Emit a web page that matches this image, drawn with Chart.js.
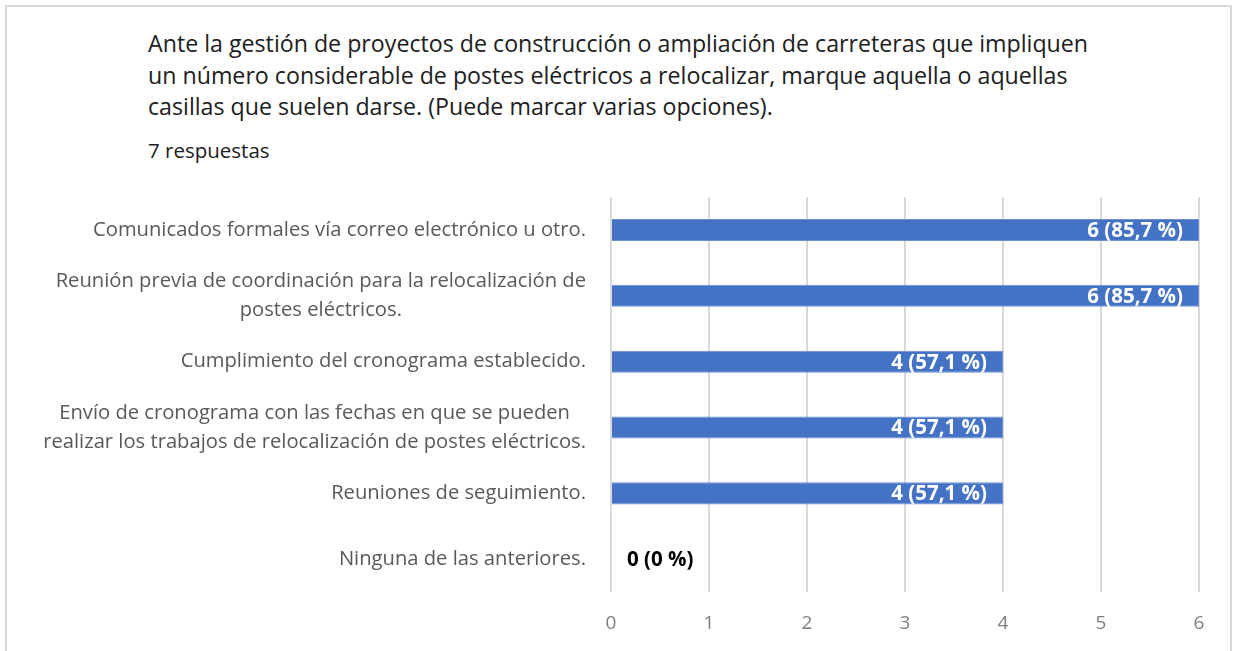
<!DOCTYPE html>
<html>
<head>
<meta charset="utf-8">
<script src="https://cdn.jsdelivr.net/npm/chart.js@4.4.1/dist/chart.umd.min.js"></script>
<style>
  body { margin: 0; background: #fff; overflow: hidden; }
  #frame {
    position: absolute; left: 5px; top: 5px; width: 1227px; height: 700px;
    border: 2px solid #d9d9d9; box-sizing: border-box;
  }
  #title {
    position: absolute; left: 148px; top: 28px;
    font-family: "Open Sans", sans-serif; font-size: 23.2px; line-height: 31.5px; color: #202020;
  }
  #sub {
    position: absolute; left: 148px; top: 136px;
    font-family: "Open Sans", sans-serif; font-size: 20.5px; color: #202020;
  }
  #wrap { position: absolute; left: 0; top: 0; width: 1233px; height: 651px; overflow: hidden; }
</style>
</head>
<body>
<div id="frame"></div>
<div id="title">Ante la gestión de proyectos de construcción o ampliación de carreteras que impliquen<br>un número considerable de postes eléctricos a relocalizar, marque aquella o aquellas<br>casillas que suelen darse. (Puede marcar varias opciones).</div>
<div id="sub">7 respuestas</div>
<div id="wrap"><canvas id="chart" width="1233" height="657"></canvas></div>

<script>
// data
const categories = [
  ["Comunicados formales vía correo electrónico u otro."],
  ["Reunión previa de coordinación para la relocalización de", "postes eléctricos."],
  ["Cumplimiento del cronograma establecido."],
  ["Envío de cronograma con las fechas en que se pueden", "realizar los trabajos de relocalización de postes eléctricos."],
  ["Reuniones de seguimiento."],
  ["Ninguna de las anteriores."]
];
const counts = [6, 6, 4, 4, 4, 0];
const percents = ["85,7", "85,7", "57,1", "57,1", "57,1", "0"];
const xTicks = [0, 1, 2, 3, 4, 5, 6];

const labelFont = "20.2px 'Open Sans', sans-serif";

// draws the category labels (right aligned block, lines centred to each other)
const catLabels = {
  id: "catLabels",
  afterDraw(chart) {
    const ctx = chart.ctx;
    const yScale = chart.scales.y;
    const right = chart.chartArea.left - 25;
    ctx.save();
    ctx.font = labelFont;
    ctx.fillStyle = "#595959";
    ctx.textAlign = "center";
    ctx.textBaseline = "middle";
    categories.forEach((lines, i) => {
      let maxW = 0;
      lines.forEach(l => { maxW = Math.max(maxW, ctx.measureText(l).width); });
      const cx = right - maxW / 2;
      const yc = yScale.getPixelForValue(i);
      const lh = 29;
      const top = yc - (lines.length - 1) * lh / 2;
      lines.forEach((l, j) => ctx.fillText(l, cx, top + j * lh));
    });
    ctx.restore();
  }
};

// value labels on the bars
const barLabels = {
  id: "barLabels",
  afterDatasetsDraw(chart) {
    const ctx = chart.ctx;
    const meta = chart.getDatasetMeta(0);
    ctx.save();
    ctx.font = "bold 20.5px 'Open Sans', sans-serif";
    ctx.textBaseline = "middle";
    meta.data.forEach((bar, i) => {
      const txt = counts[i] + " (" + percents[i] + " %)";
      if (counts[i] > 0) {
        ctx.fillStyle = "#ffffff";
        ctx.textAlign = "right";
        ctx.fillText(txt, bar.x - 16, bar.y + 1);
      } else {
        ctx.fillStyle = "#000000";
        ctx.textAlign = "left";
        ctx.fillText(txt, bar.base + 16, bar.y + 1);
      }
    });
    ctx.restore();
  }
};

new Chart(document.getElementById("chart"), {
  type: "bar",
  data: {
    labels: categories.map(c => c.join(" ")),
    datasets: [{
      data: counts,
      backgroundColor: "#4472c4",
      borderColor: "#6d8fd0",
      borderWidth: 1,
      categoryPercentage: 1,
      barPercentage: 0.335
    }]
  },
  options: {
    indexAxis: "y",
    responsive: false,
    animation: false,
    layout: { padding: { left: 603, right: 34, top: 197, bottom: 2 } },
    plugins: {
      legend: { display: false },
      tooltip: { enabled: false }
    },
    scales: {
      x: {
        min: xTicks[0],
        max: xTicks[xTicks.length - 1],
        afterBuildTicks: (axis) => { axis.ticks = xTicks.map(v => ({ value: v })); },
        grid: { color: "#d9d9d9", lineWidth: 2, drawTicks: false },
        border: { display: false },
        ticks: {
          color: "#7f7f7f",
          font: { family: "'Open Sans', sans-serif", size: 19 },
          padding: 20
        }
      },
      y: {
        grid: { display: false },
        border: { display: false },
        ticks: { display: false }
      }
    }
  },
  plugins: [catLabels, barLabels]
});
</script>
</body>
</html>
